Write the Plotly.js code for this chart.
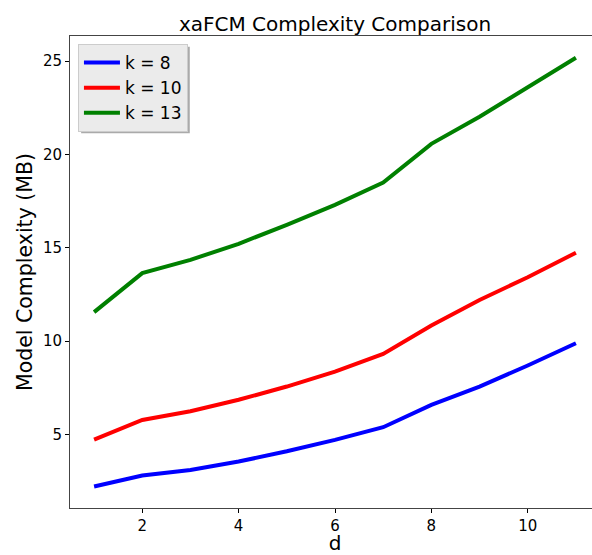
<!DOCTYPE html>
<html>
<head>
<meta charset="utf-8">
<script src="https://cdn.plot.ly/plotly-3.0.1.min.js"></script>
<style>html,body{margin:0;padding:0;overflow:hidden;background:#fff;}</style>
</head>
<body>
<div id="chart"></div>
<script>
const d = [1, 2, 3, 4, 5, 6, 7, 8, 9, 10, 11];
const k8 = [2.2, 2.79, 3.09, 3.54, 4.09, 4.70, 5.38, 6.58, 7.56, 8.69, 9.88];
const k10 = [4.72, 5.77, 6.24, 6.85, 7.56, 8.36, 9.31, 10.83, 12.2, 13.42, 14.73];
const k13 = [11.55, 13.64, 14.35, 15.21, 16.23, 17.3, 18.5, 20.57, 22.02, 23.6, 25.18];
const seriesNames = ['k = 8', 'k = 10', 'k = 13'];
const colors = ['blue', 'red', 'green'];
const ys = [k8, k10, k13];

const traces = ys.map((y, i) => ({
  x: d, y: y, type: 'scatter', mode: 'lines', name: seriesNames[i],
  line: {color: colors[i], width: 4}
}));

const font = 'DejaVu Sans, sans-serif';
const layout = {
  width: 600, height: 555,
  margin: {l: 70, r: 0, t: 36, b: 47},
  paper_bgcolor: '#fff', plot_bgcolor: '#fff',
  font: {family: font, color: '#000'},
  title: {text: 'xaFCM Complexity Comparison', font: {size: 20, family: font, color: '#000'},
          x: 0.5, xref: 'paper', y: 1, yref: 'paper', yanchor: 'bottom', pad: {b: 5}},
  xaxis: {
    range: [0.5, 11.5], tickvals: [2, 4, 6, 8, 10], showgrid: false, zeroline: false,
    ticks: 'outside', ticklen: 4, tickcolor: '#000', tickfont: {size: 15},
    showline: true, linecolor: '#444', linewidth: 1, mirror: true,
    title: {text: 'd', font: {size: 20}, standoff: 7}
  },
  yaxis: {
    range: [1.05, 26.35], tickvals: [5, 10, 15, 20, 25], showgrid: false, zeroline: false,
    ticks: 'outside', ticklen: 4, tickcolor: '#000', tickfont: {size: 15},
    showline: true, linecolor: '#444', linewidth: 1, mirror: true,
    title: {text: 'Model Complexity (MB)', font: {size: 20.5}, standoff: 4}
  },
  legend: {
    x: 0.015, y: 0.983, xanchor: 'left', yanchor: 'top',
    bgcolor: '#ebebeb', bordercolor: '#cccccc', borderwidth: 1,
    font: {size: 17}, tracegroupgap: 0, itemwidth: 36
  },
  shapes: [{
    type: 'rect', xref: 'paper', yref: 'paper', layer: 'below',
    x0: 0.021, x1: 0.226, y0: 0.794, y1: 0.977,
    fillcolor: '#aaaaaa', line: {width: 0}
  }],
  showlegend: true
};

Plotly.newPlot('chart', traces, layout, {displayModeBar: false, staticPlot: true});
</script>
</body>
</html>
